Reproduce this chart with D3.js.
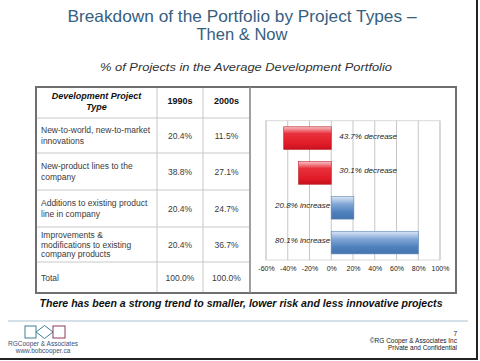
<!DOCTYPE html>
<html>
<head>
<meta charset="utf-8">
<script src="https://cdn.jsdelivr.net/npm/d3@7"></script>
<style>
  body { margin: 0; background: #fff; }
  svg { display: block; font-family: "Liberation Sans", Arial, sans-serif; }
</style>
</head>
<body>
<svg id="slide" width="480" height="361"></svg>
<script>
// table + chart data
var projectTypes = [
    ["New-to-world, new-to-market", "innovations"],
    ["New-product lines to the", "company"],
    ["Additions to existing product", "line in company"],
    ["Improvements &", "modifications to existing", "company products"],
    ["Total"]
];
var share1990s = [20.4, 38.8, 20.4, 20.4, 100.0];
var share2000s = [11.5, 27.1, 24.7, 36.7, 100.0];
var changePct = [-43.7, -30.1, 20.8, 80.1];
var changeLabels = ["43.7% decrease", "30.1% decrease", "20.8% increase", "80.1% increase"];
var xTicks = [-60, -40, -20, 0, 20, 40, 60, 80, 100];

function drawSlide(svg) {
    var canvas = d3.select(svg);

    // title
    var titleColor = "#36607f";
    canvas.append("text")
        .attr("x", 242).attr("y", 22)
        .attr("text-anchor", "middle")
        .attr("font-size", 16.5)
        .attr("fill", titleColor)
        .attr("textLength", 349).attr("lengthAdjust", "spacingAndGlyphs")
        .text("Breakdown of the Portfolio by Project Types \u2013");
    canvas.append("text")
        .attr("x", 242).attr("y", 40)
        .attr("text-anchor", "middle")
        .attr("font-size", 16.5)
        .attr("fill", titleColor)
        .attr("textLength", 91).attr("lengthAdjust", "spacingAndGlyphs")
        .text("Then & Now");

    canvas.append("text")
        .attr("x", 246).attr("y", 71)
        .attr("text-anchor", "middle")
        .attr("font-size", 11)
        .attr("font-style", "italic")
        .attr("fill", "#333")
        .attr("textLength", 292).attr("lengthAdjust", "spacingAndGlyphs")
        .text("% of Projects in the Average Development Portfolio");

    // table layout
    var left = 36, right = 456, top = 87, bottom = 293;
    var colEdges = [36, 157, 203, 250];
    var rowEdges = [87, 118, 153, 190, 227, 262, 293];
    var lineColor = "#c8c8c8", textColor = "#3a3a3a";

    var grid = canvas.append("g");
    rowEdges.slice(1, -1).forEach(function(y) {
        grid.append("line")
            .attr("x1", left).attr("x2", colEdges[3])
            .attr("y1", y).attr("y2", y)
            .attr("stroke", lineColor).attr("stroke-width", 1);
    });
    colEdges.slice(1).forEach(function(x) {
        grid.append("line")
            .attr("x1", x).attr("x2", x)
            .attr("y1", top).attr("y2", bottom)
            .attr("stroke", lineColor).attr("stroke-width", 1);
    });

    // header
    var header = canvas.append("g")
        .attr("font-size", 9).attr("fill", "#111").attr("font-weight", "bold")
        .attr("text-anchor", "middle");
    header.append("text").attr("x", 96.5).attr("y", 99)
        .attr("font-style", "italic").text("Development Project");
    header.append("text").attr("x", 96.5).attr("y", 110)
        .attr("font-style", "italic").text("Type");
    header.append("text").attr("x", 180).attr("y", 104).text("1990s");
    header.append("text").attr("x", 226.5).attr("y", 104).text("2000s");

    // body rows
    var rows = canvas.selectAll(".tableRow")
        .data(projectTypes.map(function(lines, i) {
            return { lines: lines, a: share1990s[i], b: share2000s[i], y0: rowEdges[i + 1], y1: rowEdges[i + 2] };
        }))
        .enter().append("g")
        .attr("class", "tableRow")
        .attr("font-size", 8.5)
        .attr("fill", textColor);

    rows.each(function(d) {
        var g = d3.select(this),
            mid = (d.y0 + d.y1) / 2,
            lh = d.lines.length > 2 ? 9.6 : 11,
            first = mid - (d.lines.length - 1) * lh / 2 + 3;
        d.lines.forEach(function(t, k) {
            g.append("text").attr("x", 41).attr("y", first + k * lh).text(t);
        });
        g.append("text").attr("x", 180).attr("y", mid + 3)
            .attr("text-anchor", "middle").text(d.a.toFixed(1) + "%");
        g.append("text").attr("x", 226.5).attr("y", mid + 3)
            .attr("text-anchor", "middle").text(d.b.toFixed(1) + "%");
    });

    // gradients for bars
    var defs = canvas.append("defs");
    function grad(id, stops) {
        var lg = defs.append("linearGradient").attr("id", id)
            .attr("x1", 0).attr("y1", 0).attr("x2", 0).attr("y2", 1);
        stops.forEach(function(s) {
            lg.append("stop").attr("offset", s[0]).attr("stop-color", s[1]);
        });
    }
    grad("redGrad", [[0, "#f7c2c6"], [0.3, "#e8313c"], [0.75, "#e01b27"], [1, "#c5121d"]]);
    grad("blueGrad", [[0, "#dce7f5"], [0.35, "#7fa5d6"], [0.7, "#4f81bd"], [1, "#4573ae"]]);

    // bar chart
    var x = d3.scaleLinear().domain([-60, 100]).range([266, 440]);
    var y = d3.scaleBand().domain(d3.range(changePct.length)).range([120.7, 260]).paddingInner(0.35).paddingOuter(0.175);

    var chart = canvas.append("g");
    chart.append("rect")
        .attr("x", x(-60)).attr("y", 120.7)
        .attr("width", x(100) - x(-60)).attr("height", 260 - 120.7)
        .attr("fill", "none").attr("stroke", "#d9d9d9");

    chart.selectAll(".gridLine").data(xTicks)
        .enter().append("line")
        .attr("class", "gridLine")
        .attr("x1", function(d) { return x(d); })
        .attr("x2", function(d) { return x(d); })
        .attr("y1", 120.7).attr("y2", 260)
        .attr("stroke", "#c6c6c6");

    chart.selectAll(".bar").data(changePct)
        .enter().append("rect")
        .attr("class", "bar")
        .attr("x", function(d) { return x(Math.min(0, d)); })
        .attr("y", function(d, i) { return y(i); })
        .attr("width", function(d) { return Math.abs(x(d) - x(0)); })
        .attr("height", y.bandwidth())
        .attr("fill", function(d) { return d < 0 ? "url(#redGrad)" : "url(#blueGrad)"; })
        .attr("stroke", function(d) { return d < 0 ? "#b8202a" : "#5b86bb"; })
        .attr("stroke-width", 0.6);

    chart.selectAll(".barLabel").data(changePct)
        .enter().append("text")
        .attr("class", "barLabel")
        .attr("x", function(d) { return d < 0 ? x(0) + 8 : x(0) - 1; })
        .attr("y", function(d, i) { return y(i) + y.bandwidth() / 2 + 0.5; })
        .attr("text-anchor", function(d) { return d < 0 ? "start" : "end"; })
        .attr("font-size", 8)
        .attr("font-style", "italic")
        .attr("fill", "#222")
        .text(function(d, i) { return changeLabels[i]; });

    var axis = d3.axisBottom(x).tickValues(xTicks).tickSize(0).tickPadding(0)
        .tickFormat(function(d) { return d + "%"; });
    var axisG = chart.append("g").attr("transform", "translate(0,266)").call(axis);
    axisG.select(".domain").remove();
    axisG.selectAll("text")
        .attr("font-size", 7).attr("fill", "#222")
        .attr("font-family", "Liberation Sans, Arial, sans-serif");

    // outer borders of table and chart
    canvas.append("rect")
        .attr("x", left).attr("y", top)
        .attr("width", right - left).attr("height", bottom - top)
        .attr("fill", "none").attr("stroke", "#6f6f6f").attr("stroke-width", 2);
    canvas.append("line")
        .attr("x1", colEdges[3]).attr("x2", colEdges[3])
        .attr("y1", top).attr("y2", bottom)
        .attr("stroke", "#8a8a8a").attr("stroke-width", 1.5);

    // takeaway
    canvas.append("text")
        .attr("x", 241).attr("y", 307)
        .attr("text-anchor", "middle")
        .attr("font-size", 11.5)
        .attr("font-weight", "bold").attr("font-style", "italic")
        .attr("fill", "#111")
        .attr("textLength", 403).attr("lengthAdjust", "spacingAndGlyphs")
        .text("There has been a strong trend to smaller, lower risk and less innovative projects");

    // footer
    canvas.append("line")
        .attr("x1", 8).attr("x2", 468).attr("y1", 321).attr("y2", 321)
        .attr("stroke", "#a9bfcf").attr("stroke-width", 1.2);

    canvas.append("rect").attr("x", 25).attr("y", 326).attr("width", 11).attr("height", 12)
        .attr("fill", "none").attr("stroke", "#3e7f96").attr("stroke-width", 1);
    canvas.append("path").attr("d", "M36,332 L44.5,325.5 L53,332 L44.5,338.5 Z")
        .attr("fill", "none").attr("stroke", "#3e7f96").attr("stroke-width", 1);
    canvas.append("rect").attr("x", 53).attr("y", 326).attr("width", 12).attr("height", 12)
        .attr("fill", "none").attr("stroke", "#8a3a5e").attr("stroke-width", 1);

    var foot = canvas.append("g").attr("font-size", 6.5).attr("fill", "#3a4f7a");
    foot.append("text").attr("x", 43).attr("y", 345.5).attr("text-anchor", "middle").text("RGCooper & Associates");
    foot.append("text").attr("x", 43).attr("y", 352.5).attr("text-anchor", "middle").text("www.bobcooper.ca");

    var footR = canvas.append("g").attr("font-size", 6.5).attr("fill", "#222").attr("text-anchor", "end");
    footR.append("text").attr("x", 457).attr("y", 336).text("7");
    footR.append("text").attr("x", 457).attr("y", 343).text("\u00a9RG Cooper & Associates Inc");
    footR.append("text").attr("x", 457).attr("y", 350).text("Private and Confidential");

    // slide edge (right and bottom)
    canvas.append("line").attr("x1", 477).attr("x2", 477).attr("y1", 0).attr("y2", 359)
        .attr("stroke", "#222").attr("stroke-width", 2);
    canvas.append("line").attr("x1", 0).attr("x2", 478).attr("y1", 359).attr("y2", 359)
        .attr("stroke", "#222").attr("stroke-width", 2);
}

drawSlide(document.getElementById("slide"));
</script>
</body>
</html>
